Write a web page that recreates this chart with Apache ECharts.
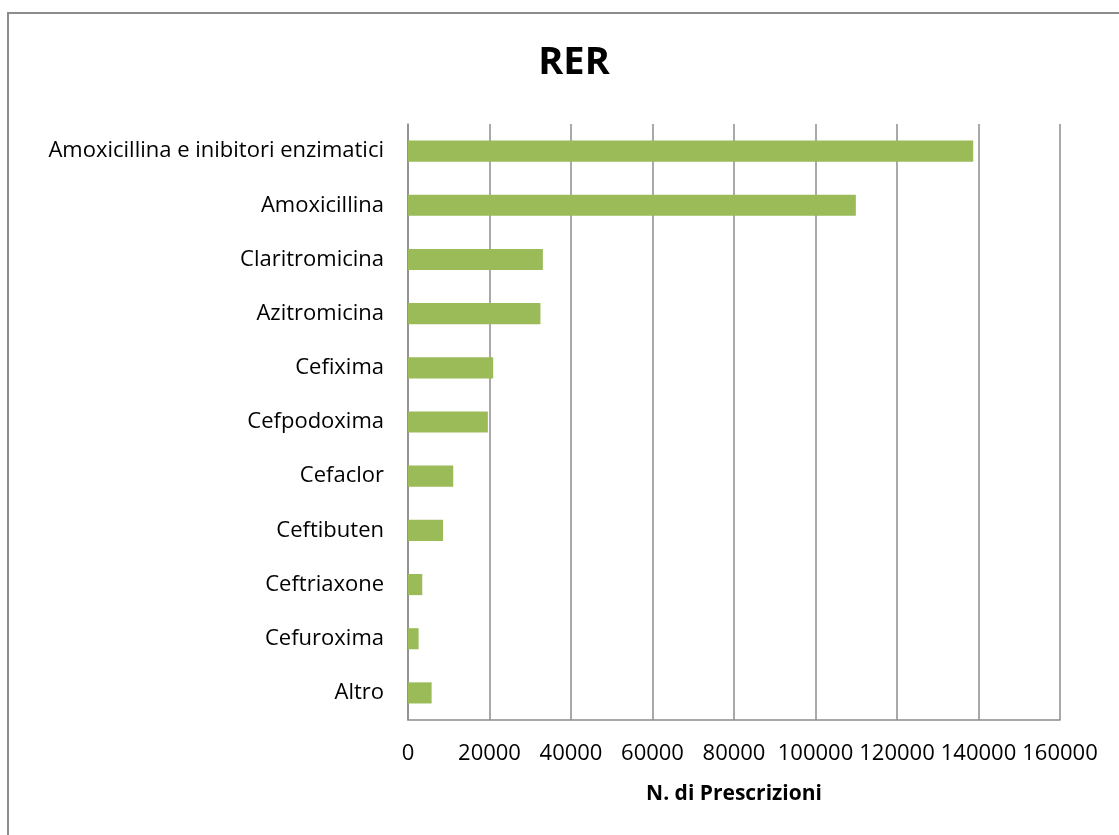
<!DOCTYPE html>
<html><head><meta charset="utf-8">
<script src="https://cdn.jsdelivr.net/npm/echarts@6/dist/echarts.min.js"></script>
<style>html,body{margin:0;padding:0;background:#fff}#c{width:1119px;height:835px}</style>
</head><body><div id="c"></div>
<script>
const categories = ["Amoxicillina e inibitori enzimatici","Amoxicillina","Claritromicina","Azitromicina","Cefixima","Cefpodoxima","Cefaclor","Ceftibuten","Ceftriaxone","Cefuroxima","Altro"];
const values = [138700,109900,33100,32500,20900,19600,11100,8600,3500,2600,5800];
const title = "RER";
const xName = "N. di Prescrizioni";
const FONT = "Open Sans";
const chart = echarts.init(document.getElementById('c'));
chart.setOption({
  animation:false,
  backgroundColor:'#fff',
  graphic:[{type:'rect',shape:{x:8,y:13,width:1140,height:840},style:{fill:'none',stroke:'#8c8c8c',lineWidth:2}}],
  title:{text:title,left:569,top:39,textAlign:'center',textStyle:{fontFamily:FONT,fontSize:38,fontWeight:'bold',color:'#000'}},
  grid:{left:408,right:59,top:124,bottom:115,containLabel:false},
  xAxis:{type:'value',min:0,max:160000,interval:20000,
    name:xName,nameLocation:'middle',nameGap:64,
    nameTextStyle:{fontFamily:FONT,fontSize:21,fontWeight:'bold',color:'#000'},
    axisLine:{show:true,lineStyle:{color:'#8c8c8c',width:1.5}},
    axisTick:{show:false},
    axisLabel:{fontFamily:FONT,fontSize:22,color:'#000',margin:23,formatter:v=>String(v)},
    splitLine:{show:true,lineStyle:{color:'#8c8c8c',width:1.5}}},
  yAxis:{type:'category',data:categories,inverse:true,
    axisLine:{show:true,lineStyle:{color:'#8c8c8c',width:1.5}},
    axisTick:{show:false},
    axisLabel:{fontFamily:FONT,fontSize:22,color:'#000',margin:24}},
  series:[{type:'bar',data:values,barCategoryGap:'61%',itemStyle:{color:'#9BBB59'}}]
});
</script></body></html>
